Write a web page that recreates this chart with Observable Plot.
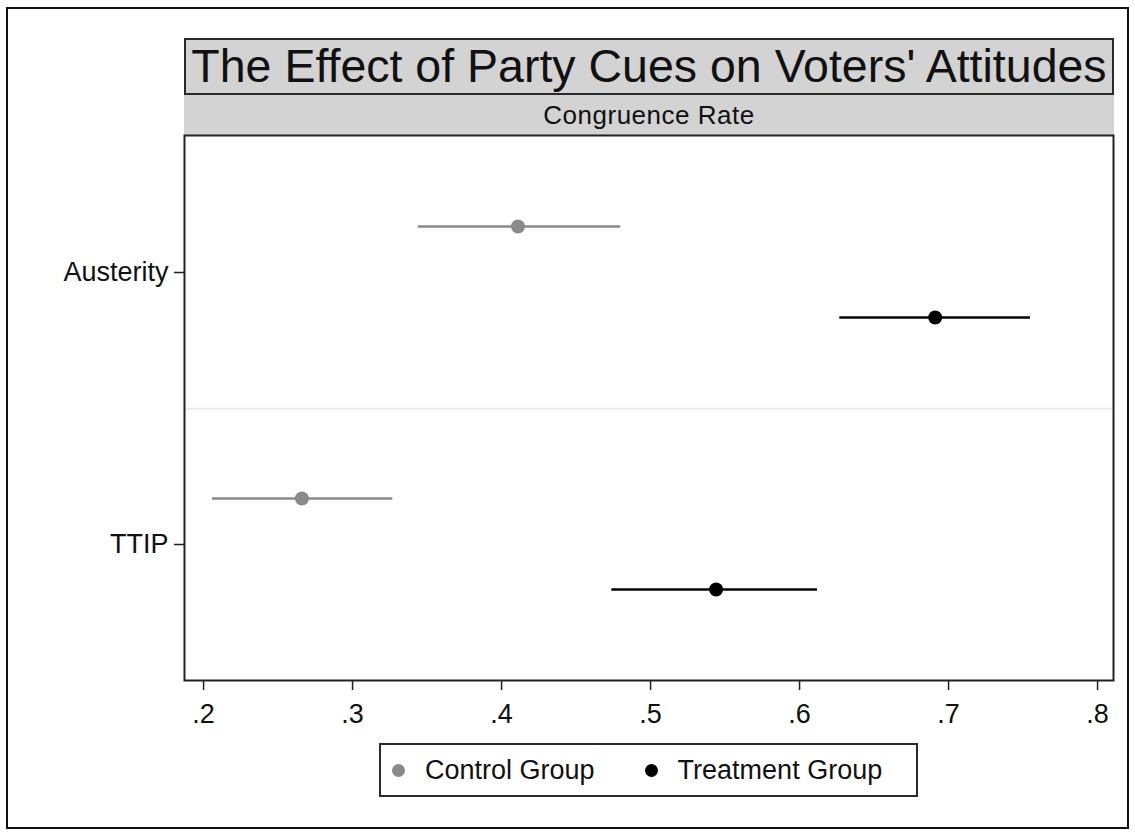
<!DOCTYPE html>
<html>
<head>
<meta charset="utf-8">
<script src="https://cdn.jsdelivr.net/npm/d3@7"></script>
<script src="https://cdn.jsdelivr.net/npm/@observablehq/plot@0.6"></script>
<style>
  body { margin: 0; background: #fff; font-family: "Liberation Sans", Arial, Helvetica, sans-serif; }
  #page { position: relative; width: 1135px; height: 832px; overflow: hidden; background: #fff; }
  #outer { position: absolute; left: 6px; top: 7px; width: 1123px; height: 822px; border: 2px solid #111; box-sizing: border-box; }
  #title { position: absolute; left: 184px; top: 38px; width: 930px; height: 57px; background: #d3d3d3; border: 2px solid #2a2a2a; box-sizing: border-box; font-size: 46.5px; text-align: center; line-height: 52px; color: #111; white-space: nowrap; }
  #subtitle { position: absolute; left: 184px; top: 95px; width: 930px; height: 40px; background: #d3d3d3; font-size: 26px; letter-spacing: 0.5px; text-align: center; line-height: 40px; color: #111; }
  #chart { position: absolute; left: 0; top: 134px; }
  #legend { position: absolute; left: 379px; top: 743px; width: 539px; height: 54px; border: 2px solid #2a2a2a; box-sizing: border-box; background: #fff; display: flex; align-items: center; padding-left: 11px; font-size: 27px; color: #111; }
  .item { display: flex; align-items: center; }
  .sw { width: 13px; height: 13px; border-radius: 50%; margin-right: 20px; }
  .item + .item { margin-left: 50px; }
</style>
</head>
<body>
<div id="page">
  <div id="outer"></div>
  <div id="title"></div>
  <div id="subtitle"></div>
  <div id="chart"></div>
  <div id="legend"></div>
</div>
<script>
// ---- data ----
const titleText = "The Effect of Party Cues on Voters' Attitudes";
const subtitleText = "Congruence Rate";
const topics = ["Austerity", "TTIP"];
const groups = ["Control Group", "Treatment Group"];
const groupColors = ["#8a8a8a", "#000000"];
const controlEst = [0.411, 0.266];
const controlLo = [0.344, 0.206];
const controlHi = [0.480, 0.327];
const treatEst = [0.691, 0.544];
const treatLo = [0.627, 0.474];
const treatHi = [0.755, 0.612];
const xTicks = [0.2, 0.3, 0.4, 0.5, 0.6, 0.7, 0.8];
const xTickLabels = [".2", ".3", ".4", ".5", ".6", ".7", ".8"];

// ---- build ----
document.getElementById("title").textContent = titleText;
document.getElementById("subtitle").textContent = subtitleText;

const control = topics.map((t, i) => ({topic: t, est: controlEst[i], lo: controlLo[i], hi: controlHi[i]}));
const treat = topics.map((t, i) => ({topic: t, est: treatEst[i], lo: treatLo[i], hi: treatHi[i]}));

const marginTop = 1, plotH = 545;
const chart = Plot.plot({
  width: 1135,
  height: 606,
  marginLeft: 184,
  marginRight: 22,
  marginTop: marginTop,
  marginBottom: 606 - marginTop - plotH,
  style: {fontFamily: '"Liberation Sans", Arial, sans-serif', color: "#111", background: "transparent", overflow: "visible"},
  x: {domain: [0.1872, 0.8107]},
  y: {type: "band", domain: topics, padding: 0},
  marks: [
    Plot.ruleY(["Austerity"], {dy: plotH / 4, stroke: "#ebebeb", strokeWidth: 2}),
    Plot.ruleY(control, {y: "topic", x1: "lo", x2: "hi", dy: -46, stroke: groupColors[0], strokeWidth: 2.5}),
    Plot.dot(control, {x: "est", y: "topic", dy: -46, r: 7, fill: groupColors[0], stroke: "none"}),
    Plot.ruleY(treat, {y: "topic", x1: "lo", x2: "hi", dy: 45, stroke: groupColors[1], strokeWidth: 2.5}),
    Plot.dot(treat, {x: "est", y: "topic", dy: 45, r: 7, fill: groupColors[1], stroke: "none"}),
    Plot.axisX({ticks: xTicks, tickFormat: d => xTickLabels[xTicks.indexOf(d)], tickSize: 10, tickPadding: 13, fontSize: 27, label: null, strokeWidth: 1.5, stroke: "#222"}),
    Plot.axisY({tickSize: 10, tickPadding: 6, fontSize: 27, label: null, strokeWidth: 1.5, stroke: "#222"}),
    Plot.frame({stroke: "#222", strokeWidth: 2})
  ]
});
document.getElementById("chart").appendChild(chart);

const legend = document.getElementById("legend");
groups.forEach((g, i) => {
  const item = document.createElement("div");
  item.className = "item";
  const sw = document.createElement("span");
  sw.className = "sw";
  sw.style.background = groupColors[i];
  const lab = document.createElement("span");
  lab.textContent = g;
  item.appendChild(sw);
  item.appendChild(lab);
  legend.appendChild(item);
});
</script>
</body>
</html>
